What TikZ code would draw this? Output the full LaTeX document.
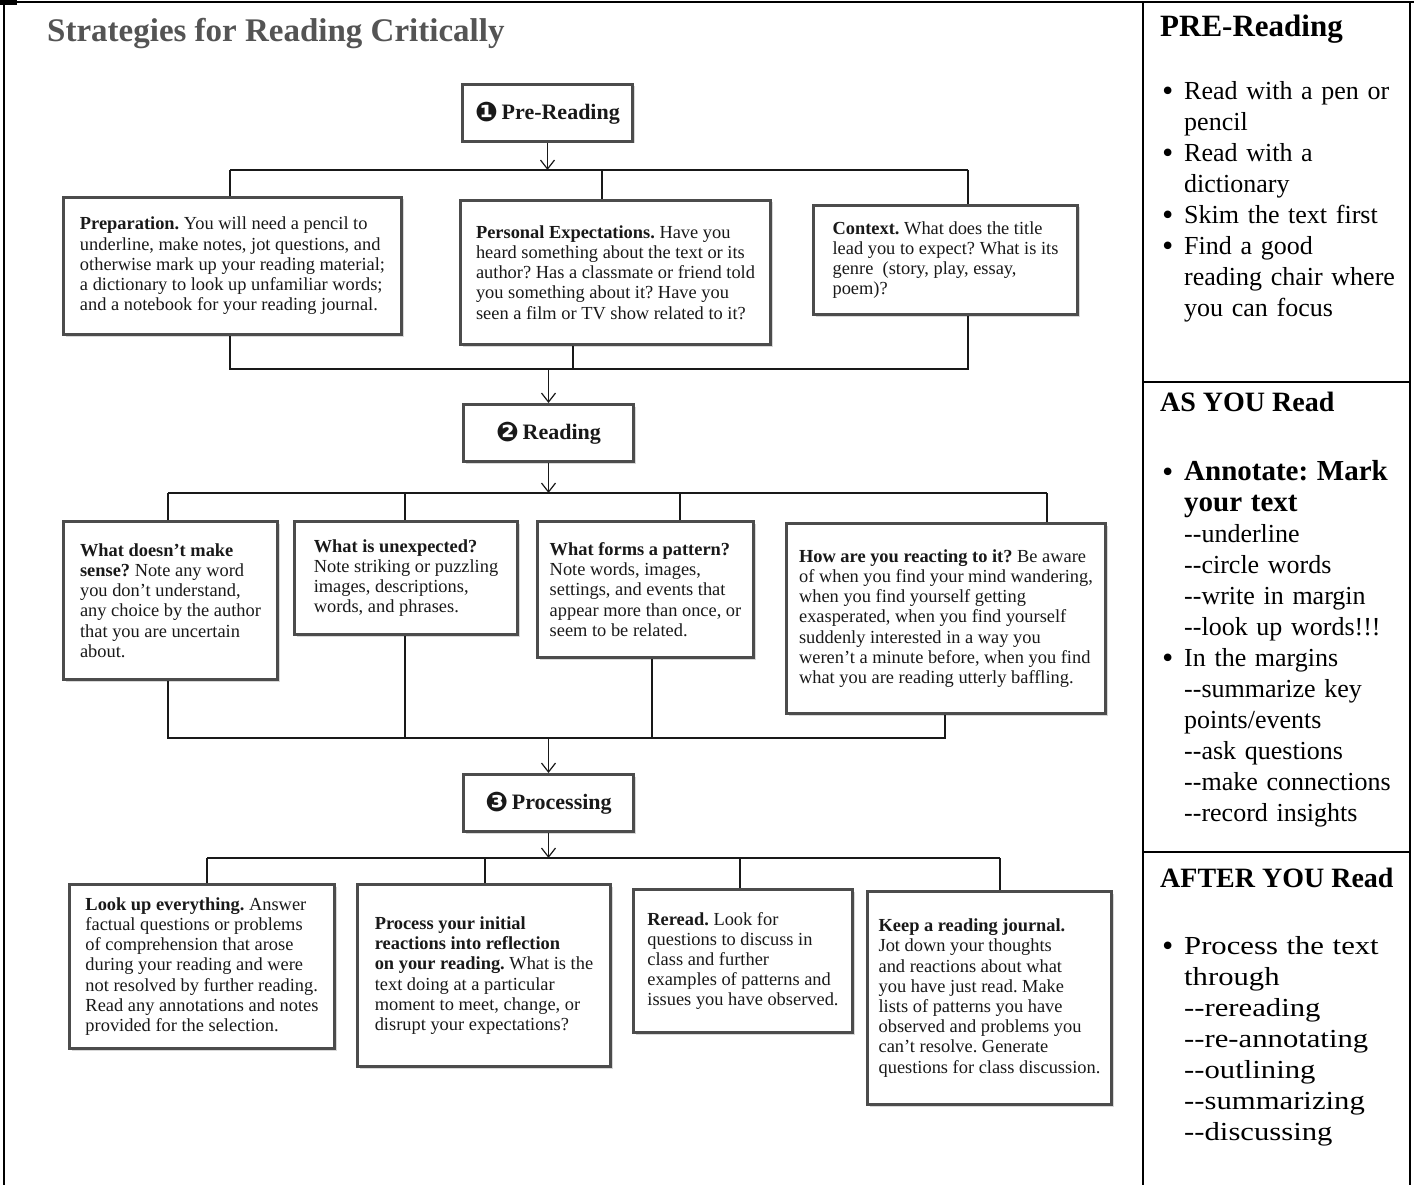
\documentclass[tikz,border=0pt]{standalone}
\usepackage{fontspec}
\setmainfont{Liberation Serif}
\newfontfamily\dingfont{DejaVu Sans}
\newfontfamily\cambriafont{Liberation Serif}[FakeStretch=1.18]
\usetikzlibrary{arrows.meta}
\usetikzlibrary{shadows}
\definecolor{scangrey}{rgb}{0.30, 0.30, 0.30}
\definecolor{inkgrey}{rgb}{0.10, 0.10, 0.10}
\definecolor{titlegrey}{rgb}{0.33, 0.33, 0.33}
\newcommand{\bul}{\makebox[24pt][l]{\dingfont\raisebox{-1pt}{•}}}
\newcommand{\ind}{\hspace*{24pt}}
\newcommand{\dd}{-{}-}
\newcommand{\stagenum}[1]{{\dingfont\fontsize{27}{27}\selectfont\raisebox{-2pt}{#1}}\,}
\frenchspacing

\begin{document}
\begin{tikzpicture}[x=1pt, y=-1pt,
	card/.style={draw=scangrey, line width=3pt, fill=white, anchor=north west, align=left, text=inkgrey, font=\fontsize{18.4}{20.2}\selectfont, drop shadow={shadow xshift=2pt, shadow yshift=-2pt, fill=black!30, opacity=0.5}},
	stage/.style={draw=scangrey, line width=3pt, fill=white, anchor=north west, minimum width=170pt, minimum height=57pt, text=inkgrey, font=\fontsize{22}{24}\selectfont\bfseries, drop shadow={shadow xshift=2pt, shadow yshift=-2pt, fill=black!30, opacity=0.5}},
	link/.style={draw=inkgrey, line width=1.2pt},
	into/.style={link, -{Straight Barb[length=9pt, width=14pt]}},
	frame/.style={line width=2pt},
	sidehead/.style={anchor=base west, inner sep=0pt},
	sidetext/.style={anchor=base west, inner sep=0pt, text width=245pt, align=left, font=\fontsize{26}{31}\selectfont}
	]
	\useasboundingbox (0,0) rectangle (1414,1185);
	
	% table lines
	\fill (0,0) rectangle (17,5);
	\draw[frame] (0,2) -- (1414,2);
	\draw[frame] (4,2) -- (4,1185);
	\draw[frame] (1143,2) -- (1143,1185);
	\draw[frame] (1410,2) -- (1410,1185);
	\draw[frame] (1143,382) -- (1410,382);
	\draw[frame] (1143,852) -- (1410,852);
	
	\node[anchor=base west, inner sep=0pt, text=titlegrey, font=\fontsize{33}{36}\selectfont\bfseries] (title) at (47,42) {Strategies for Reading Critically};
	
	% stage boxes
	\node[stage] (prer) at (461,83) {\stagenum{❶}Pre-Reading};
	\node[stage] (readg) at (462,403) {\stagenum{❷}Reading};
	\node[stage] (procs) at (462,773) {\stagenum{❸}Processing};
	
	% first row
	\node[card, minimum width=338pt, minimum height=137pt] (prep) at (62,196) {\textbf{Preparation.} You will need a pencil to\\ underline, make notes, jot questions, and\\ otherwise mark up your reading material;\\ a dictionary to look up unfamiliar words;\\ and a notebook for your reading journal.};
	\node[card, minimum width=310pt, minimum height=144pt] (pers) at (459,199) {\textbf{Personal Expectations.} Have you\\ heard something about the text or its\\ author? Has a classmate or friend told\\ you something about it? Have you\\ seen a film or TV show related to it?};
	\node[card, minimum width=264pt, minimum height=109pt] (ctx) at (812,204) {\textbf{Context.} What does the title\\ lead you to expect? What is its\\ genre~ (story, play, essay,\\ poem)?\hspace*{150pt}};
	
	% second row
	\node[card, minimum width=214pt, minimum height=158pt] (nosense) at (62,520) {\textbf{What doesn’t make}\\ \textbf{sense?} Note any word\\ you don’t understand,\\ any choice by the author\\ that you are uncertain\\ about.};
	\node[card, minimum width=223pt, minimum height=113pt] (unexp) at (293,520) {\textbf{What is unexpected?}\\ Note striking or puzzling\\ images, descriptions,\\ words, and phrases.};
	\node[card, minimum width=216pt, minimum height=136pt] (pattern) at (536,520) {\textbf{What forms a pattern?}\\ Note words, images,\\ settings, and events that\\ appear more than once, or\\ seem to be related.};
	\node[card, minimum width=319pt, minimum height=190pt] (react) at (785,522) {\textbf{How are you reacting to it?} Be aware\\ of when you find your mind wandering,\\ when you find yourself getting\\ exasperated, when you find yourself\\ suddenly interested in a way you\\ weren’t a minute before, when you find\\ what you are reading utterly baffling.};
	
	% third row
	\node[card, minimum width=265pt, minimum height=164pt] (lookup) at (68,883) {\textbf{Look up everything.} Answer\\ factual questions or problems\\ of comprehension that arose\\ during your reading and were\\ not resolved by further reading.\\ Read any annotations and notes\\ provided for the selection.};
	\node[card, minimum width=253pt, minimum height=182pt] (reflect) at (356,883) {\textbf{Process your initial}\\ \textbf{reactions into reflection}\\ \textbf{on your reading.} What is the\\ text doing at a particular\\ moment to meet, change, or\\ disrupt your expectations?};
	\node[card, minimum width=219pt, minimum height=143pt] (reread) at (632,888) {\textbf{Reread.} Look for\\ questions to discuss in\\ class and further\\ examples of patterns and\\ issues you have observed.};
	\node[card, minimum width=244pt, minimum height=213pt] (journal) at (866,890) {\textbf{Keep a reading journal.}\\ Jot down your thoughts\\ and reactions about what\\ you have just read. Make\\ lists of patterns you have\\ observed and problems you\\ can’t resolve. Generate\\ questions for class discussion.};
	
	% {Pre-Reading -> first row}
	\coordinate (fa) at (230,170);
	\coordinate (fb) at (602,170);
	\coordinate (fc) at (968,170);
	\draw[into] (prer.south) -- (prer.south |- fa);
	\draw[link] (fa) -- (fc);
	\draw[link] (fa) -- (fa |- prep.north);
	\draw[link] (fb) -- (fb |- pers.north);
	\draw[link] (fc) -- (fc |- ctx.north);
	
	% {first row -> Reading}
	\coordinate (ja) at (230,369);
	\coordinate (jb) at (573,369);
	\coordinate (jc) at (968,369);
	\draw[link] (ja |- prep.south) -- (ja) -- (jc) -- (jc |- ctx.south);
	\draw[link] (jb |- pers.south) -- (jb);
	\draw[into] (readg.north |- ja) -- (readg.north);
	
	% {Reading -> second row}
	\coordinate (ga) at (168,493);
	\coordinate (gb) at (405,493);
	\coordinate (gc) at (680,493);
	\coordinate (gd) at (1047,493);
	\draw[into] (readg.south) -- (readg.south |- ga);
	\draw[link] (ga) -- (gd);
	\draw[link] (ga) -- (ga |- nosense.north);
	\draw[link] (gb) -- (gb |- unexp.north);
	\draw[link] (gc) -- (gc |- pattern.north);
	\draw[link] (gd) -- (gd |- react.north);
	
	% {second row -> Processing}
	\coordinate (ka) at (168,738);
	\coordinate (kb) at (405,738);
	\coordinate (kc) at (652,738);
	\coordinate (kd) at (945,738);
	\draw[link] (ka |- nosense.south) -- (ka) -- (kd) -- (kd |- react.south);
	\draw[link] (kb |- unexp.south) -- (kb);
	\draw[link] (kc |- pattern.south) -- (kc);
	\draw[into] (procs.north |- ka) -- (procs.north);
	
	% {Processing -> third row}
	\coordinate (ha) at (207,858);
	\coordinate (hb) at (485,858);
	\coordinate (hc) at (740,858);
	\coordinate (hd) at (1000,858);
	\draw[into] (procs.south) -- (procs.south |- ha);
	\draw[link] (ha) -- (hd);
	\draw[link] (ha) -- (ha |- lookup.north);
	\draw[link] (hb) -- (hb |- reflect.north);
	\draw[link] (hc) -- (hc |- reread.north);
	\draw[link] (hd) -- (hd |- journal.north);
	
	% right column
	\node[sidehead, font=\fontsize{31}{34}\selectfont\bfseries] (prehd) at (1160,37) {PRE-Reading};
	\node[sidetext] (prelist) at (1160,100) {\bul Read with a pen or\\ \ind pencil\\ \bul Read with a\\ \ind dictionary\\ \bul Skim the text first\\ \bul Find a good\\ \ind reading chair where\\ \ind you can focus};
	
	\node[sidehead, font=\fontsize{28}{30}\selectfont\bfseries] (ashd) at (1160,411) {AS YOU Read};
	\node[sidetext] (aslist) at (1160,480) {\bul{\fontsize{29}{31}\selectfont\bfseries Annotate: Mark}\\ \ind{\fontsize{29}{31}\selectfont\bfseries your text}\\ \ind\dd underline\\ \ind\dd circle words\\ \ind\dd write in margin\\ \ind\dd look up words!!!\\ \bul In the margins\\ \ind\dd summarize key\\ \ind points/events\\ \ind\dd ask questions\\ \ind\dd make connections\\ \ind\dd record insights};
	
	\node[sidehead, font=\fontsize{28}{30}\selectfont\bfseries] (afthd) at (1160,887) {AFTER YOU Read};
	\node[sidetext, font=\cambriafont\fontsize{26}{31}\selectfont] (aftlist) at (1160,954) {\bul Process the text\\ \ind through\\ \ind\dd rereading\\ \ind\dd re-annotating\\ \ind\dd outlining\\ \ind\dd summarizing\\ \ind\dd discussing};
	
\end{tikzpicture}
\end{document}
